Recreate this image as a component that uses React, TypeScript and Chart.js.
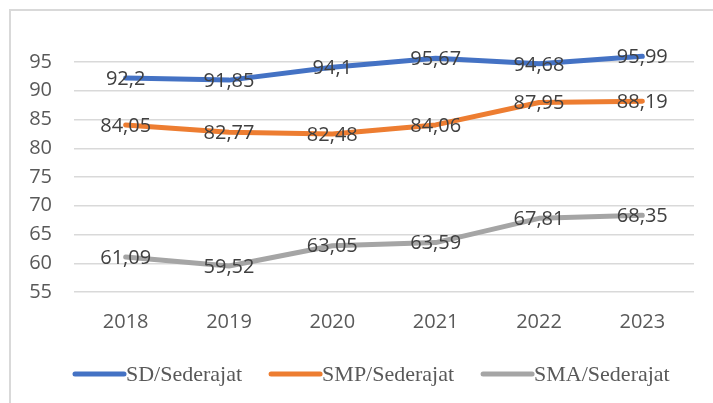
import React, { useEffect, useRef } from "react";
import { Chart, registerables } from "chart.js";

Chart.register(...registerables);

const years = ["2018", "2019", "2020", "2021", "2022", "2023"];
const sdValues = [92.2, 91.85, 94.1, 95.67, 94.68, 95.99];
const smpValues = [84.05, 82.77, 82.48, 84.06, 87.95, 88.19];
const smaValues = [61.09, 59.52, 63.05, 63.59, 67.81, 68.35];
const seriesNames = ["SD/Sederajat", "SMP/Sederajat", "SMA/Sederajat"];
const seriesColors = ["#4472C4", "#ED7D31", "#A5A5A5"];
const yMin = 55;
const yMax = 95;
const yStep = 5;

const tickFont = { family: '"Open Sans", sans-serif', size: 20 };

const framePlugin = {
  id: "frame",
  beforeDraw(chart: any) {
    const ctx = chart.ctx;
    ctx.save();
    ctx.fillStyle = "#ffffff";
    ctx.fillRect(0, 0, chart.width, chart.height);
    ctx.strokeStyle = "#d9d9d9";
    ctx.lineWidth = 2;
    ctx.beginPath();
    ctx.moveTo(10, chart.height);
    ctx.lineTo(10, 10);
    ctx.lineTo(chart.width, 10);
    ctx.stroke();
    ctx.restore();
  },
};

const dataLabelPlugin = {
  id: "dataLabels",
  afterDatasetsDraw(chart: any) {
    const ctx = chart.ctx;
    ctx.save();
    ctx.font = '20px "Open Sans", sans-serif';
    ctx.fillStyle = "#404040";
    ctx.textAlign = "center";
    ctx.textBaseline = "middle";
    chart.data.datasets.forEach((ds: any, i: number) => {
      const meta = chart.getDatasetMeta(i);
      meta.data.forEach((pt: any, j: number) => {
        const v = ds.data[j];
        ctx.fillText(String(v).replace(".", ","), pt.x, pt.y + 1);
      });
    });
    ctx.restore();
  },
};

const legendPlugin = {
  id: "customLegend",
  afterDraw(chart: any) {
    const ctx = chart.ctx;
    ctx.save();
    ctx.font = '22px "Liberation Serif", serif';
    const lineLen = 53;
    const gap = 27;
    let x = 73;
    const y = 374;
    chart.data.datasets.forEach((ds: any) => {
      const w = lineLen + ctx.measureText(ds.label).width;
      ctx.strokeStyle = ds.borderColor;
      ctx.lineWidth = 5;
      ctx.lineCap = "round";
      ctx.beginPath();
      ctx.moveTo(x + 2, y);
      ctx.lineTo(x + lineLen - 2, y);
      ctx.stroke();
      ctx.fillStyle = "#595959";
      ctx.textAlign = "left";
      ctx.textBaseline = "middle";
      ctx.fillText(ds.label, x + lineLen, y + 1);
      x += w + gap;
    });
    ctx.restore();
  },
};

export default function App() {
  const canvasRef = useRef<HTMLCanvasElement | null>(null);

  useEffect(() => {
    if (!canvasRef.current) return;
    const seriesValues = [sdValues, smpValues, smaValues];
    const chart = new Chart(canvasRef.current, {
      type: "line",
      data: {
        labels: years,
        datasets: seriesNames.map((name, i) => ({
          label: name,
          data: seriesValues[i],
          borderColor: seriesColors[i],
          backgroundColor: seriesColors[i],
          borderWidth: 5,
          borderCapStyle: "round",
          borderJoinStyle: "round",
          pointRadius: 0,
          tension: 0,
          fill: false,
          clip: false,
        })),
      },
      options: {
        responsive: false,
        animation: false,
        layout: { padding: { top: 62, right: 19, left: 0, bottom: 0 } },
        plugins: {
          legend: { display: false },
          tooltip: { enabled: false },
          title: { display: false },
        },
        scales: {
          x: {
            offset: true,
            grid: { display: false, drawTicks: false },
            border: { display: false },
            ticks: { font: tickFont, color: "#595959", padding: 18, maxRotation: 0 },
            afterFit(s: any) {
              s.height = 111;
            },
          },
          y: {
            min: yMin,
            max: yMax,
            ticks: { stepSize: yStep, font: tickFont, color: "#595959", padding: 22 },
            grid: { color: "#d9d9d9", lineWidth: 1.5, drawTicks: false },
            border: { display: false },
            afterFit(s: any) {
              s.width = 74;
            },
          },
        },
      },
      plugins: [framePlugin, dataLabelPlugin, legendPlugin],
    } as any);
    return () => chart.destroy();
  }, []);

  return (
    <div style={{ position: "fixed", left: 0, top: 0, width: 713, height: 403, background: "#fff" }}>
      <canvas ref={canvasRef} width={713} height={403} style={{ display: "block" }} />
    </div>
  );
}
